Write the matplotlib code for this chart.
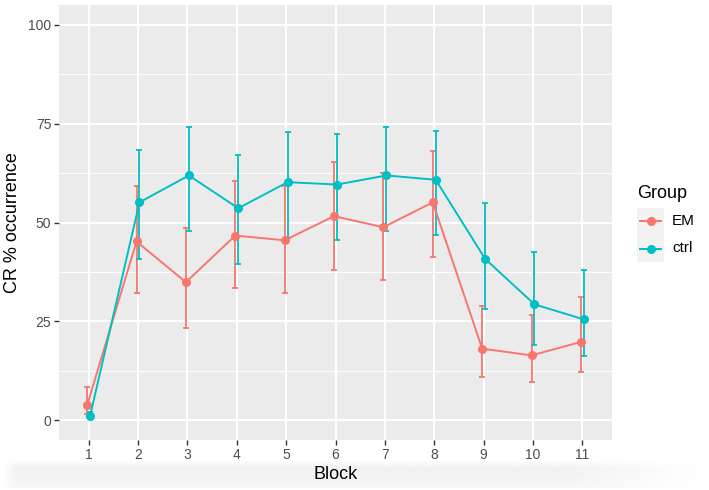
import numpy as np
import matplotlib
matplotlib.use("Agg")
import matplotlib.pyplot as plt
from matplotlib.lines import Line2D

plt.rcParams['font.family'] = ['Liberation Sans', 'DejaVu Sans']

blocks = [1, 2, 3, 4, 5, 6, 7, 8, 9, 10, 11]
groups = ["EM", "ctrl"]
colors = {"EM": "#F8766D", "ctrl": "#00BFC4"}
dodge = {"EM": -0.03, "ctrl": 0.03}

em_mean = [3.8, 45.2, 34.9, 46.7, 45.5, 51.6, 48.8, 55.1, 18.1, 16.4, 19.8]
em_hi = [8.3, 59.3, 48.7, 60.6, 59.3, 65.2, 62.5, 68.2, 28.8, 26.5, 31.1]
em_lo = [1.7, 32.2, 23.3, 33.4, 32.1, 37.9, 35.4, 41.2, 10.9, 9.7, 12.1]

ctrl_mean = [1.1, 55.1, 61.9, 53.6, 60.2, 59.6, 61.9, 60.8, 40.8, 29.3, 25.5]
ctrl_hi = [2.0, 68.4, 74.2, 67.1, 73.0, 72.4, 74.2, 73.2, 55.0, 42.5, 38.1]
ctrl_lo = [0.5, 40.8, 47.8, 39.4, 46.1, 45.5, 47.8, 46.9, 28.2, 18.9, 16.2]

data = {
    "EM": (em_mean, em_lo, em_hi),
    "ctrl": (ctrl_mean, ctrl_lo, ctrl_hi),
}

W, H = 709, 490
fig = plt.figure(figsize=(W / 100, H / 100), dpi=100)

# faint bottom shadow of the screenshot
sh = fig.add_axes([0, 0, 1, 30 / H], zorder=0)
rows = np.linspace(0, 1, 30)[:, None]          # 0 = top, 1 = bottom
cols = np.linspace(0, 1, 200)[None, :]
vert = 1 - 0.065 * np.clip(rows / 0.3, 0, 1) + 0.03 * rows
vert[-2:] = 1.0
hfade = np.clip((1 - cols) / 0.2, 0, 1) * np.clip(cols / 0.02, 0, 1)
shade = 1 - (1 - vert) * hfade
sh.imshow(shade, cmap="gray", vmin=0, vmax=1, aspect="auto",
          extent=[0, 1, 0, 1], interpolation="bilinear")
sh.axis("off")

ax = fig.add_axes([59 / W, (H - 440) / H, (612 - 59) / W, (440 - 5) / H], zorder=1)
ax.set_facecolor("#EBEBEB")
for s in ax.spines.values():
    s.set_visible(False)

ax.set_xlim(0.4, 11.6)
ax.set_ylim(-5, 105)
ax.set_xticks(blocks)
ax.set_yticks([0, 25, 50, 75, 100])
ax.set_yticks([12.5, 37.5, 62.5, 87.5], minor=True)
ax.grid(which="major", color="white", linewidth=1.4)
ax.grid(which="minor", axis="y", color="white", linewidth=0.7)
ax.set_axisbelow(True)
ax.tick_params(which="major", length=3.5, width=1.0, color="#333333",
               labelcolor="#4D4D4D", labelsize=10, pad=2)
ax.tick_params(which="minor", length=0)

for g in groups:
    m, lo, hi = data[g]
    x = np.array(blocks) + dodge[g]
    m = np.array(m)
    yerr = [m - np.array(lo), np.array(hi) - m]
    ax.errorbar(x, m, yerr=yerr, fmt="none", ecolor=colors[g],
                elinewidth=1.3, capsize=2.2, capthick=1.3, zorder=2)
    ax.plot(x, m, color=colors[g], linewidth=1.4, marker="o",
            markersize=5.5, zorder=3)

ax.set_xlabel("Block", fontsize=13, color="black", labelpad=3)
ax.set_ylabel("CR % occurrence", fontsize=13, color="black", labelpad=5)

# legend
fig.text(637 / W, 1 - 193 / H, "Group", fontsize=13, va="center", ha="left")
lk = fig.add_axes([637 / W, (H - 262) / H, 27 / W, 54 / H])
lk.set_facecolor("#F2F2F2")
lk.set_xlim(0, 1)
lk.set_ylim(len(groups), 0)
lk.set_xticks([])
lk.set_yticks([])
for s in lk.spines.values():
    s.set_visible(False)
for i, g in enumerate(groups):
    lk.add_line(Line2D([0.1, 0.9], [i + 0.5, i + 0.5], color=colors[g],
                       linewidth=1.4))
    lk.plot([0.5], [i + 0.5], "o", color=colors[g], markersize=5.5)
    fig.text(672 / W, 1 - (221 + 27 * i) / H, g, fontsize=11,
             va="center", ha="left")

fig.savefig("out.png", dpi=100)
